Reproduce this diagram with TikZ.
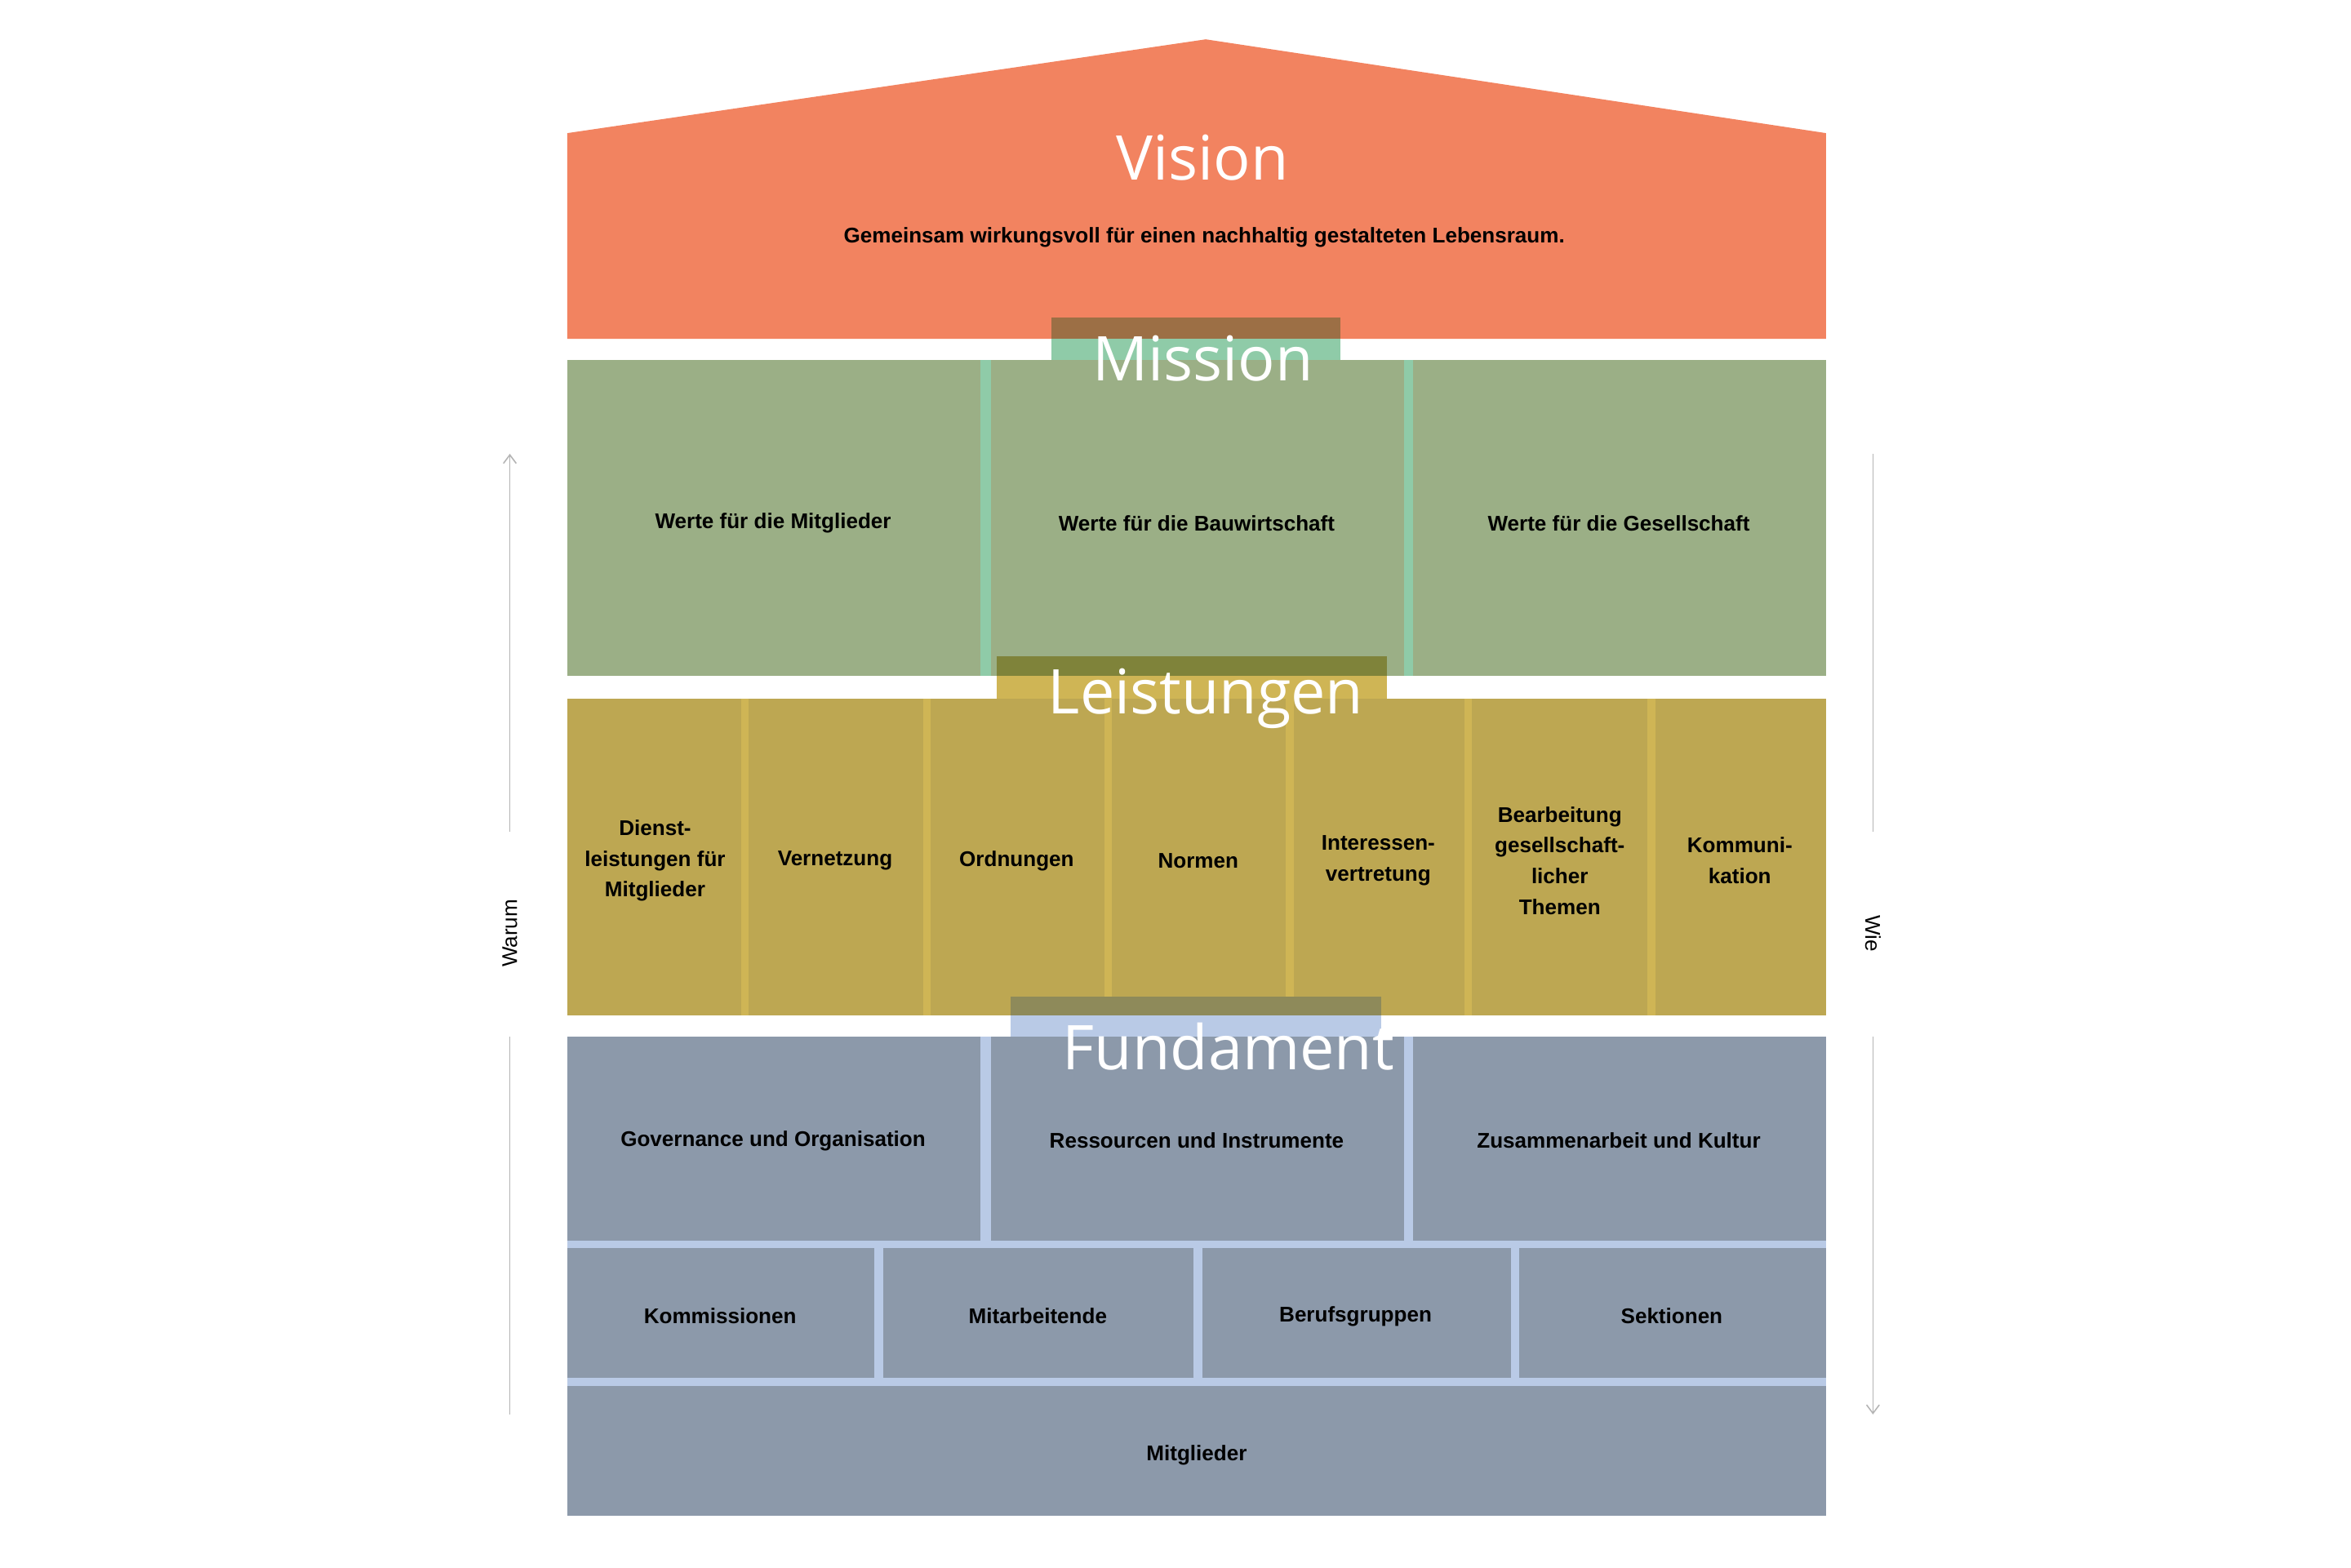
\documentclass[tikz,border=0pt]{standalone}
\usepackage{fontspec}
\setmainfont{Liberation Sans}
\newfontfamily\titlefont{Open Sans}
\definecolor{roof}{HTML}{F28360}
\definecolor{roofdark}{HTML}{9C6F45}
\definecolor{mint}{HTML}{8FCBA8}
\definecolor{sage}{HTML}{9BAF86}
\definecolor{olive}{HTML}{7F833A}
\definecolor{gold}{HTML}{BDA752}
\definecolor{goldlight}{HTML}{CFB555}
\definecolor{slate}{HTML}{8C99AA}
\definecolor{slatedark}{HTML}{8E8A5A}
\definecolor{skyblue}{HTML}{B9CAE6}
\definecolor{guide}{HTML}{B4B4B4}
\usetikzlibrary{arrows.meta}
\tikzset{
  title/.style={text=white, font=\titlefont\fontsize{58}{60}\selectfont, inner sep=0pt},
  cell/.style={font=\bfseries\fontsize{20}{29}\selectfont, align=center, inner sep=0pt},
  guideline/.style={guide, line width=1.2pt},
}
\begin{document}
\begin{tikzpicture}[x=0.05cm, y=-0.05cm]
    \useasboundingbox (0,0) rectangle (1554,1036);

    % Roof
    \fill[roof] (375,88) -- (797,26) -- (1207,88) -- (1207,224) -- (375,224) -- cycle;
    \node[title] (vision) at (795,104) {Vision};
    \node[cell] (visiontext) at (796,157) {Gemeinsam wirkungsvoll für einen nachhaltig gestalteten Lebensraum.};

    % Mission row
    \fill[sage] (375,238) rectangle (1207,447);
    \fill[mint] (648,238) rectangle (655,447);
    \fill[mint] (928,238) rectangle (934,447);
    \fill[roofdark] (695,210) rectangle (886,224);
    \fill[mint] (695,224) rectangle (886,238);
    \node[title] (mission) at (795,237) {Mission};
    \foreach \name/\x/\txt in {mitglieder/511/Werte für die Mitglieder,
        bau/791/Werte für die Bauwirtschaft,
        gesellschaft/1070/Werte für die Gesellschaft} {
        \node[cell] (\name) at (\x,346) {\txt};
    }

    % Leistungen row
    \fill[gold] (375,462) rectangle (1207,671);
    \foreach \x in {490,610,730,850,968,1089} {
        \fill[goldlight] (\x,462) rectangle (\x+5,671);
    }
    \fill[olive] (659,434) rectangle (917,447);
    \fill[goldlight] (659,447) rectangle (917,462);
    \node[title] (leistungen) at (797,462) {Leistungen};
    \foreach \name/\x/\txt in {dienst/433/Dienst-\\leistungen für\\Mitglieder,
        vernetzung/552/Vernetzung,
        ordnungen/672/Ordnungen,
        normen/792/Normen,
        interessen/911/Interessen-\\vertretung,
        themen/1031/Bearbeitung\\gesellschaft-\\licher\\Themen,
        kommunikation/1150/Kommuni-\\kation} {
        \node[cell] (\name) at (\x,569) {\txt};
    }

    % Fundament rows
    \fill[skyblue] (375,685) rectangle (1207,1002);
    \fill[slate] (375,685) rectangle (648,820);
    \fill[slate] (655,685) rectangle (928,820);
    \fill[slate] (934,685) rectangle (1207,820);
    \foreach \a/\b in {375/578,584/789,795/999,1004/1207} {
        \fill[slate] (\a,825) rectangle (\b,911);
    }
    \fill[slate] (375,916) rectangle (1207,1002);
    \fill[slatedark] (668,659) rectangle (913,671);
    \fill[skyblue] (668,671) rectangle (913,685);
    \begin{scope}
        \clip (600,640) rectangle (932,740);
        \node[title] (fundament) at (812,692) {Fundament};
    \end{scope}
    \foreach \name/\x/\y/\txt in {governance/511/754/Governance und Organisation,
        ressourcen/791/754/Ressourcen und Instrumente,
        kultur/1070/754/Zusammenarbeit und Kultur,
        kommissionen/476/870/Kommissionen,
        mitarbeitende/686/870/Mitarbeitende,
        berufsgruppen/896/870/Berufsgruppen,
        sektionen/1105/870/Sektionen,
        basis/791/962/Mitglieder} {
        \node[cell] (\name) at (\x,\y) {\txt};
    }

    % Side guides
    \node[font=\fontsize{20}{24}\selectfont, rotate=90] (warum) at (337,617) {Warum};
    \node[font=\fontsize{20}{24}\selectfont, rotate=-90] (wie) at (1238,617) {Wie};
    \coordinate (lt) at (337,300);
    \coordinate (lm) at (337,550);
    \coordinate (lb) at (337,685);
    \coordinate (le) at (337,935);
    \coordinate (rt) at (1238,300);
    \coordinate (rm) at (1238,550);
    \coordinate (rb) at (1238,685);
    \coordinate (re) at (1238,935);
    \draw[guideline, -{Straight Barb[length=8pt,width=12pt]}] (lm) -- (lt);
    \draw[guideline] (le) -- (lb);
    \draw[guideline] (rt) -- (rm);
    \draw[guideline, -{Straight Barb[length=8pt,width=12pt]}] (rb) -- (re);
\end{tikzpicture}
\end{document}
